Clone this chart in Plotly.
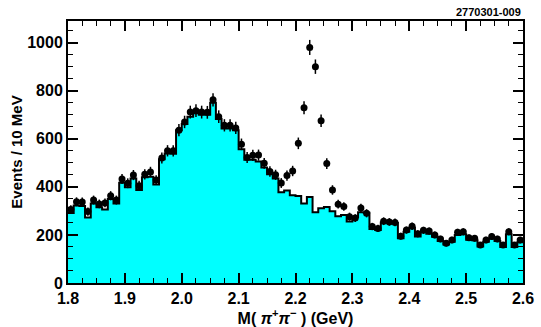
import numpy as np
import plotly.graph_objects as go

# Binning: 80 bins of 10 MeV from 1.8 to 2.6 GeV
bin_low = 1.80
bin_width = 0.01
n_bins = 80

# Data points (events per bin)
data_counts = [306, 338, 337, 297, 345, 329, 333, 363, 345, 433,
               415, 449, 405, 452, 462, 428, 520, 550, 550, 636,
               670, 711, 717, 711, 710, 762, 692, 656, 656, 645,
               577, 522, 531, 532, 498, 464, 450, 416, 447, 466,
               581, 729, 980, 900, 675, 497, 387, 328, 318, 276,
               270, 312, 290, 235, 227, 257, 254, 252, 195, 220,
               236, 205, 219, 216, 200, 183, 165, 179, 211, 213,
               188, 186, 158, 179, 193, 183, 158, 213, 158, 179]

# Statistical errors on data points
data_errors = [17.5, 18.4, 18.4, 17.2, 18.6, 18.1, 18.2, 19.1, 18.6, 20.8,
               20.4, 21.2, 20.1, 21.3, 21.5, 20.7, 22.8, 23.5, 23.5, 25.2,
               25.9, 26.7, 26.8, 26.7, 26.6, 27.6, 26.3, 25.6, 25.6, 25.4,
               24.0, 22.8, 23.0, 23.1, 22.3, 21.5, 21.2, 20.4, 21.1, 21.6,
               24.1, 27.0, 31.3, 30.0, 26.0, 22.3, 19.7, 18.1, 17.8, 16.6,
               16.4, 17.7, 17.0, 15.3, 15.1, 16.0, 15.9, 15.9, 14.0, 14.8,
               15.4, 14.3, 14.8, 14.7, 14.1, 13.5, 12.8, 13.4, 14.5, 14.6,
               13.7, 13.6, 12.6, 13.4, 13.9, 13.5, 12.6, 14.6, 12.6, 13.4]

# Background histogram (cyan)
hist_counts = [291, 322, 320, 273, 331, 315, 306, 349, 331, 417,
               398, 435, 387, 440, 442, 410, 515, 539, 538, 636,
               661, 692, 706, 700, 700, 750, 682, 643, 643, 636,
               556, 513, 513, 505, 480, 452, 435, 378, 385, 365,
               362, 331, 358, 294, 311, 316, 298, 278, 283, 256,
               274, 294, 292, 225, 220, 252, 252, 250, 186, 213,
               230, 193, 213, 205, 192, 175, 160, 172, 200, 203,
               180, 178, 152, 172, 185, 175, 150, 203, 150, 170]

x_tick_vals = [1.8, 1.9, 2.0, 2.1, 2.2, 2.3, 2.4, 2.5, 2.6]
y_tick_vals = [0, 200, 400, 600, 800, 1000]

edges = bin_low + bin_width * np.arange(n_bins + 1)
centers = edges[:-1] + bin_width / 2

font_family = "Liberation Sans, Arial, sans-serif"

fig = go.Figure()

fig.add_trace(go.Scatter(
    x=edges,
    y=list(hist_counts) + [hist_counts[-1]],
    mode="lines",
    line=dict(shape="hv", color="black", width=2),
    fill="tozeroy",
    fillcolor="#00FFFF",
    hoverinfo="skip",
))

fig.add_trace(go.Scatter(
    x=centers,
    y=data_counts,
    mode="markers",
    marker=dict(color="black", size=7, symbol="circle"),
    error_y=dict(type="data", array=data_errors, visible=True,
                 color="black", thickness=1.5, width=0),
))

axis_font = dict(family=font_family, size=16, color="black", weight="bold")

fig.update_layout(
    width=541, height=327,
    margin=dict(l=68, r=18, t=21, b=44),
    paper_bgcolor="white",
    plot_bgcolor="white",
    showlegend=False,
    font=dict(family=font_family, color="black"),
    xaxis=dict(
        range=[1.8, 2.6],
        automargin=False,
        tickvals=x_tick_vals,
        tickformat=".1f",
        ticks="inside", ticklen=10, tickwidth=1.5, tickcolor="black",
        minor=dict(dtick=0.025, tick0=1.8, ticks="inside", ticklen=5,
                   tickwidth=1, tickcolor="black", showgrid=False),
        showline=True, linecolor="black", linewidth=2, mirror="ticks",
        showgrid=False, zeroline=False,
        tickfont=axis_font,
        title=dict(text="M( <i>π</i><sup>+</sup><i>π</i><sup>−</sup> ) (GeV)",
                   font=dict(family=font_family, size=16, color="black", weight="bold"),
                   standoff=4),
    ),
    yaxis=dict(
        range=[0, 1090],
        automargin=False,
        tickvals=y_tick_vals,
        ticks="inside", ticklen=10, tickwidth=1.5, tickcolor="black",
        minor=dict(dtick=50, tick0=0, ticks="inside", ticklen=5,
                   tickwidth=1, tickcolor="black", showgrid=False),
        showline=True, linecolor="black", linewidth=2, mirror="ticks",
        showgrid=False, zeroline=False,
        tickfont=axis_font,
        title=dict(text="Events / 10 MeV",
                   font=dict(family=font_family, size=15, color="black", weight="bold"),
                   standoff=1),
    ),
    annotations=[dict(
        text="2770301-009", xref="paper", yref="paper",
        x=1.0, y=1.0, xanchor="right", yanchor="bottom",
        showarrow=False, yshift=1,
        font=dict(family=font_family, size=11, color="black", weight="bold"),
    )],
)

fig.write_html("out.html")
